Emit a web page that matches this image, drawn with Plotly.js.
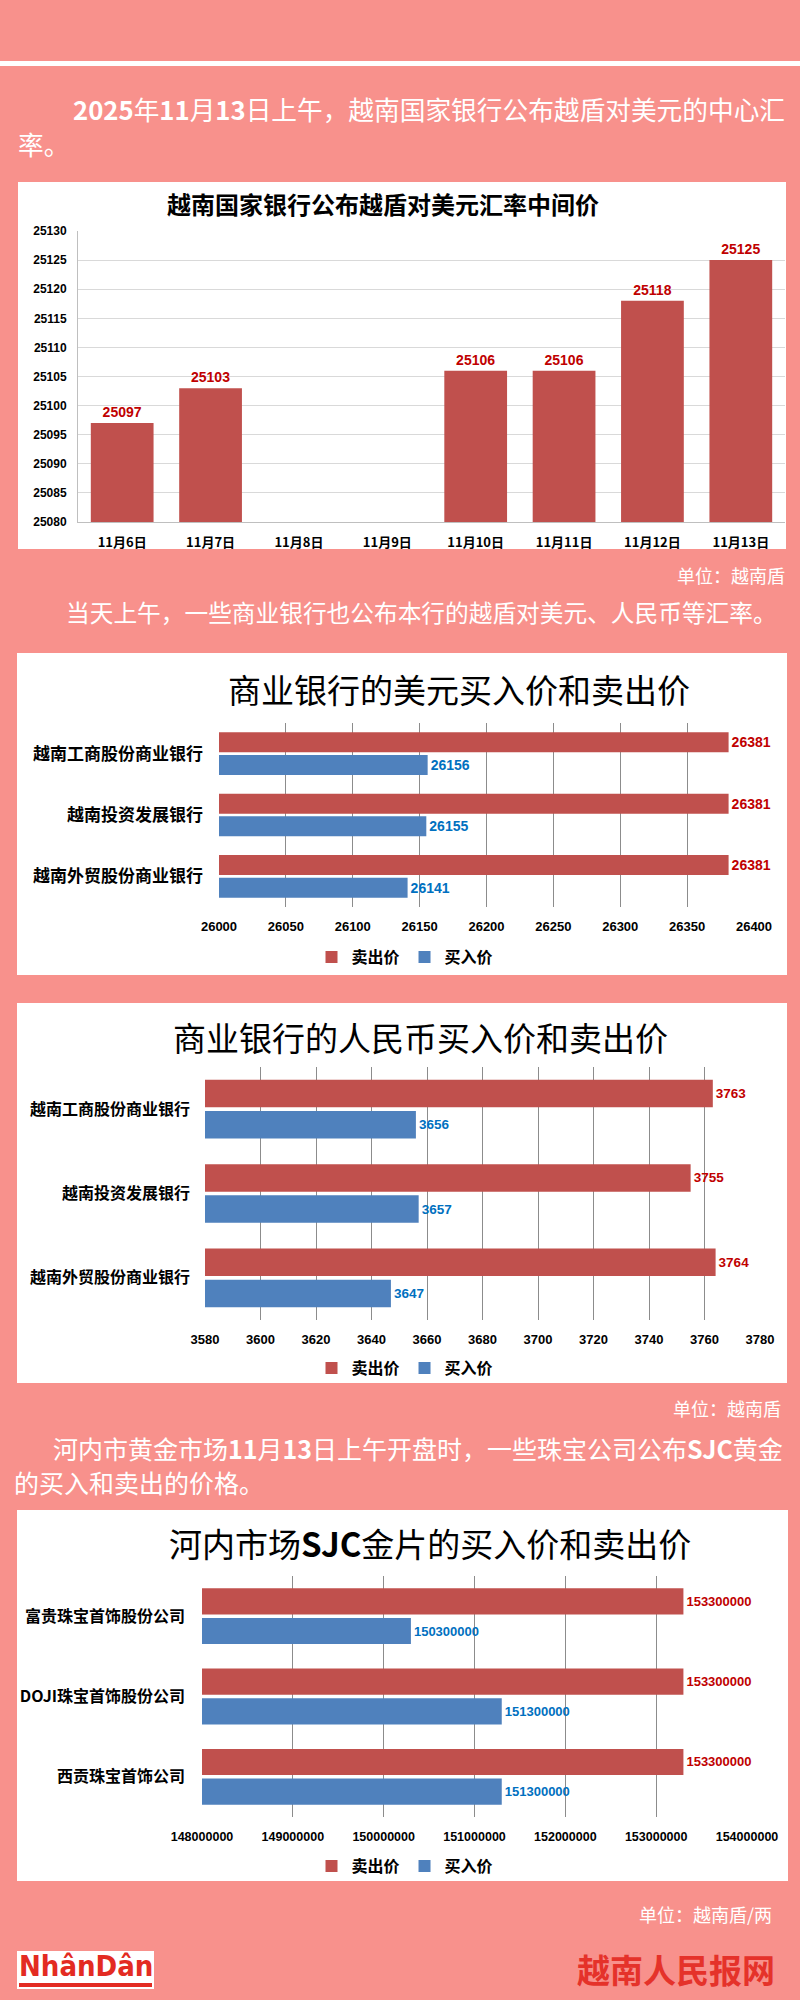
<!DOCTYPE html>
<html>
<head>
<meta charset="utf-8">
<script src="https://cdn.plot.ly/plotly-3.0.1.min.js"></script>
<style>
  html, body { margin: 0; padding: 0; background: #F8918C; }
  #chart { width: 800px; height: 2000px; }
</style>
</head>
<body>
<div id="chart"></div>
<script>
// ---------- data ----------
const dates = ['11月6日','11月7日','11月8日','11月9日','11月10日','11月11日','11月12日','11月13日'];
const centralRate = [25097, 25103, null, null, 25106, 25106, 25118, 25125];

const banks = ['越南工商股份商业银行','越南投资发展银行','越南外贸股份商业银行'];
const usdSell = [26381, 26381, 26381];
const usdBuy  = [26156, 26155, 26141];
const cnySell = [3763, 3755, 3764];
const cnyBuy  = [3656, 3657, 3647];

const goldCompanies = ['富贵珠宝首饰股份公司','DOJI珠宝首饰股份公司','西贡珠宝首饰公司'];
const goldSell = [153300000, 153300000, 153300000];
const goldBuy  = [150300000, 151300000, 151300000];

const seriesNames = ['卖出价', '买入价'];

// ---------- styling ----------
const W = 800, H = 2000;
const BG = '#F8918C';
const RED = '#C0504D', BLUE = '#4F81BD';
const RED_TXT = '#C00000', BLUE_TXT = '#0070C0';
const CJK = '"Noto Sans CJK SC", "Noto Sans", sans-serif';
const NUM = '"Liberation Sans", Arial, sans-serif';
const px = x => x / W;
const py = y => 1 - y / H;

function hbar(vals, cats, name, color, txtColor, xa, ya, lg, base, fs) {
  return {
    type: 'bar', orientation: 'h', name: name,
    y: cats, x: vals.map(v => v - base), base: base,
    text: vals.map(v => String(v)), textposition: 'outside', constraintext: 'none',
    textfont: {family: NUM, size: fs, color: txtColor, weight: 'bold'},
    marker: {color: color}, xaxis: xa, yaxis: ya, legend: lg,
    cliponaxis: false, hoverinfo: 'skip'
  };
}

const traces = [
  {
    type: 'bar', x: dates, y: centralRate, width: 0.71,
    text: centralRate.map(v => v == null ? '' : String(v)),
    textposition: 'outside', constraintext: 'none',
    textfont: {family: NUM, size: 14, color: RED_TXT, weight: 'bold'},
    marker: {color: RED}, xaxis: 'x', yaxis: 'y', showlegend: false, hoverinfo: 'skip'
  },
  hbar(usdSell, banks, seriesNames[0], RED, RED_TXT, 'x2', 'y2', 'legend', 26000, 14),
  hbar(usdBuy, banks, seriesNames[1], BLUE, BLUE_TXT, 'x2', 'y2', 'legend', 26000, 14),
  hbar(cnySell, banks, seriesNames[0], RED, RED_TXT, 'x3', 'y3', 'legend2', 3580, 13.5),
  hbar(cnyBuy, banks, seriesNames[1], BLUE, BLUE_TXT, 'x3', 'y3', 'legend2', 3580, 13.5),
  hbar(goldSell, goldCompanies, seriesNames[0], RED, RED_TXT, 'x4', 'y4', 'legend3', 148000000, 13),
  hbar(goldBuy, goldCompanies, seriesNames[1], BLUE, BLUE_TXT, 'x4', 'y4', 'legend3', 148000000, 13)
];

const valAxisH = (dom, anchor, range, dtick, fs) => ({
  domain: dom, anchor: anchor, range: range, dtick: dtick, tickformat: 'd',
  showgrid: true, gridcolor: '#8C8C8C', gridwidth: 1, zeroline: false, showline: false,
  ticks: '', ticklabelstandoff: 10,
  tickfont: {family: NUM, size: fs, color: '#000', weight: 'bold'}, fixedrange: true
});
const catAxisH = (dom, anchor, fs, standoff) => ({
  domain: dom, anchor: anchor, type: 'category', autorange: 'reversed',
  showgrid: false, zeroline: false, showline: false, ticks: '', ticklabelstandoff: standoff,
  tickfont: {family: CJK, size: fs, color: '#000', weight: 'bold'}, fixedrange: true
});
const legendAt = (y) => ({
  orientation: 'h', x: px(405), y: py(y), xanchor: 'center', yanchor: 'middle',
  bgcolor: 'rgba(0,0,0,0)', itemwidth: 30, traceorder: 'normal',
  font: {family: CJK, size: 16, color: '#000', weight: 'bold'}
});

const box = (x0, y0, x1, y1, color) => ({
  type: 'rect', xref: 'paper', yref: 'paper', layer: 'below',
  x0: px(x0), x1: px(x1), y0: py(y1), y1: py(y0),
  fillcolor: color, line: {width: 0}
});

const txt = (text, x, y, size, opts) => Object.assign({
  text: text, xref: 'paper', yref: 'paper', x: px(x), y: py(y),
  xanchor: 'left', yanchor: 'middle', showarrow: false,
  font: {family: CJK, size: size, color: '#FFFFFF'}
}, opts || {});

const layout = {
  width: W, height: H,
  margin: {l: 0, r: 0, t: 0, b: 0, pad: 0},
  paper_bgcolor: BG, plot_bgcolor: 'rgba(0,0,0,0)',
  barmode: 'group', bargap: 0.26, bargroupgap: 0.12,
  font: {family: CJK},
  xaxis: {
    domain: [px(78), px(785)], anchor: 'y', type: 'category',
    showgrid: false, showline: true, linecolor: '#BFBFBF', zeroline: false,
    ticks: '', ticklabelstandoff: 8,
    tickfont: {family: CJK, size: 13, color: '#000', weight: 'bold'}, fixedrange: true
  },
  yaxis: {
    domain: [py(522), py(231)], anchor: 'x', range: [25080, 25130], dtick: 5, tickformat: 'd',
    showgrid: true, gridcolor: '#D9D9D9', showline: true, linecolor: '#BFBFBF', zeroline: false,
    ticks: '', ticklabelstandoff: 8,
    tickfont: {family: NUM, size: 12, color: '#000', weight: 'bold'}, fixedrange: true
  },
  xaxis2: valAxisH([px(219), px(754)], 'y2', [26000, 26400], 50, 13),
  yaxis2: catAxisH([py(907), py(723)], 'x2', 17, 15),
  xaxis3: valAxisH([px(205), px(760)], 'y3', [3580, 3780], 20, 13),
  yaxis3: catAxisH([py(1320), py(1067)], 'x3', 16, 14),
  xaxis4: valAxisH([px(202), px(747)], 'y4', [148000000, 154000000], 1000000, 12.5),
  yaxis4: catAxisH([py(1817), py(1576)], 'x4', 16, 16),
  legend: legendAt(957),
  legend2: legendAt(1368),
  legend3: legendAt(1866),
  shapes: [
    box(0, 61, 800, 66, '#FFFFFF'),
    box(18, 182, 786, 549, '#FFFFFF'),
    box(17, 653, 787, 975, '#FFFFFF'),
    box(17, 1003, 787, 1383, '#FFFFFF'),
    box(17, 1510, 788, 1881, '#FFFFFF'),
    box(17, 1951, 154, 1989, '#FFFFFF'),
    box(19, 1983, 152, 1987, '#E32B22')
  ],
  annotations: [
    txt('<b>2025</b>年<b>11</b>月<b>13</b>日上午，越南国家银行公布越盾对美元的中心汇', 71, 109, 25.7),
    txt('率。', 16, 143, 25.7),
    txt('越南国家银行公布越盾对美元汇率中间价', 383, 204, 24,
        {xanchor: 'center', font: {family: CJK, size: 24, color: '#000', weight: 'bold'}}),
    txt('单位：越南盾', 787, 575, 18, {xanchor: 'right'}),
    txt('当天上午，一些商业银行也公布本行的越盾对美元、人民币等汇率。', 64, 612, 23.7),
    txt('商业银行的美元买入价和卖出价', 459, 689, 33,
        {xanchor: 'center', font: {family: CJK, size: 33, color: '#000'}}),
    txt('商业银行的人民币买入价和卖出价', 420, 1037, 33,
        {xanchor: 'center', font: {family: CJK, size: 33, color: '#000'}}),
    txt('单位：越南盾', 783, 1408, 18, {xanchor: 'right'}),
    txt('河内市黄金市场<b>11</b>月<b>13</b>日上午开盘时，一些珠宝公司公布<b>SJC</b>黄金', 51, 1448, 25),
    txt('的买入和卖出的价格。', 12, 1482, 25),
    txt('河内市场<b>SJC</b>金片的买入价和卖出价', 430, 1543, 33,
        {xanchor: 'center', font: {family: CJK, size: 33, color: '#000'}}),
    txt('单位：越南盾/两', 774, 1914, 18, {xanchor: 'right'}),
    txt('<b>NhânDân</b>', 86, 1966, 29,
        {xanchor: 'center', font: {family: '"DejaVu Sans Condensed", "Liberation Sans Narrow", sans-serif', size: 29, color: '#E32B22'}}),
    txt('越南人民报网', 777, 1969, 33,
        {xanchor: 'right', font: {family: CJK, size: 33, color: '#E5322A', weight: 'bold'}})
  ]
};

Plotly.newPlot('chart', traces, layout, {displayModeBar: false, staticPlot: true});
</script>
</body>
</html>
